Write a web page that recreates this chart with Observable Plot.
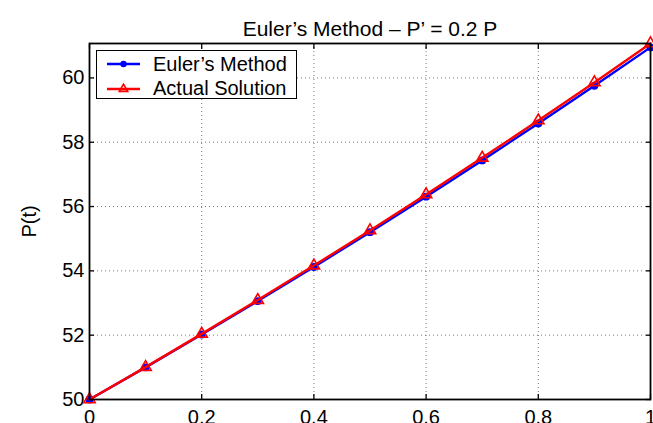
<!DOCTYPE html>
<html>
<head>
<meta charset="utf-8">
<script src="https://cdn.jsdelivr.net/npm/d3@7"></script>
<script src="https://cdn.jsdelivr.net/npm/@observablehq/plot@0.6"></script>
<style>
  html, body { margin: 0; padding: 0; background: #fff; }
  #wrap { position: relative; width: 653px; height: 423px; overflow: hidden; font-family: "Liberation Sans", Arial, sans-serif; }
  #legend { position: absolute; left: 96px; top: 50px; width: 199px; height: 47px; border: 1px solid #000; background: #fff; font-size: 20px; }
  #legend .row { position: absolute; left: 8px; height: 24px; display: flex; align-items: center; line-height: 24px; }
  #legend .row svg { display: block; }
  #legend .row span { margin-left: 12px; }
</style>
</head>
<body>
<div id="wrap"></div>
<script>
const t = [0, 0.1, 0.2, 0.3, 0.4, 0.5, 0.6, 0.7, 0.8, 0.9, 1.0];
const eulerP = [50, 51, 52.02, 53.0604, 54.1216, 55.2040, 56.3081, 57.4343, 58.5830, 59.7546, 60.9497];
const actualP = [50, 51.0067, 52.0405, 53.0918, 54.1644, 55.2585, 56.3749, 57.5137, 58.6755, 59.8609, 61.0701];
const xTicks = [0, 0.2, 0.4, 0.6, 0.8, 1];
const yTicks = [50, 52, 54, 56, 58, 60];
const xTickLabels = ["0", "0.2", "0.4", "0.6", "0.8", "1"];
const titleText = "Euler\u2019s Method \u2013 P\u2019 = 0.2 P";
const seriesNames = ["Euler\u2019s Method", "Actual Solution"];

const euler = t.map((x, i) => ({t: x, P: eulerP[i]}));
const actual = t.map((x, i) => ({t: x, P: actualP[i]}));

const font = "Liberation Sans, Arial, sans-serif";
const noText = () => "";

const chart = Plot.plot({
  width: 653,
  height: 423,
  marginLeft: 89,
  marginRight: 3,
  marginTop: 43,
  marginBottom: 24,
  style: {fontFamily: font, fontSize: "20px", color: "#000", background: "#fff", overflow: "visible"},
  x: {domain: [0, 1]},
  y: {domain: [50, 61.0701]},
  marks: [
    Plot.gridX(xTicks.slice(1, -1), {stroke: "#555", strokeOpacity: 1, strokeWidth: 0.8, strokeDasharray: "1,3"}),
    Plot.gridY(yTicks.slice(1), {stroke: "#555", strokeOpacity: 1, strokeWidth: 0.8, strokeDasharray: "1,3"}),
    Plot.axisX(xTicks, {anchor: "bottom", tickSize: 0, tickPadding: 10, tickFormat: (d) => xTickLabels[xTicks.indexOf(d)], fontSize: 20, label: null}),
    Plot.axisX(xTicks, {anchor: "bottom", tickSize: -5, tickFormat: noText, strokeWidth: 1.3, label: null}),
    Plot.axisX(xTicks, {anchor: "top", tickSize: -5, tickFormat: noText, strokeWidth: 1.3, label: null}),
    Plot.axisY(yTicks, {anchor: "left", tickSize: 0, tickPadding: 5, fontSize: 20, label: "P(t)", labelAnchor: "center", labelArrow: "none", labelOffset: 68}),
    Plot.axisY(yTicks, {anchor: "left", tickSize: -5, tickFormat: noText, strokeWidth: 1.3, label: null}),
    Plot.axisY(yTicks, {anchor: "right", tickSize: -5, tickFormat: noText, strokeWidth: 1.3, label: null}),
    Plot.line(euler, {x: "t", y: "P", stroke: "#0000ff", strokeWidth: 2.4}),
    Plot.dot(euler, {x: "t", y: "P", fill: "#0000ff", stroke: "#0000ff", r: 3.2}),
    Plot.line(actual, {x: "t", y: "P", stroke: "#ff0000", strokeWidth: 2.4}),
    Plot.dot(actual, {x: "t", y: "P", symbol: "triangle", stroke: "#ff0000", fill: "none", strokeWidth: 1.6, r: 4.2}),
    Plot.frame({stroke: "#000", strokeWidth: 1.8}),
    Plot.text([titleText], {frameAnchor: "top", dy: -22.5, fontSize: 21, fill: "#000"})
  ]
});

const wrap = document.getElementById("wrap");
wrap.appendChild(chart);

const legend = document.createElement("div");
legend.id = "legend";
const sw = [
  `<svg width="36" height="12"><line x1="2" y1="6" x2="35" y2="6" stroke="#0000ff" stroke-width="2.4"/><circle cx="18.5" cy="6" r="3.2" fill="#0000ff"/></svg>`,
  `<svg width="36" height="12"><line x1="2" y1="7" x2="35" y2="7" stroke="#ff0000" stroke-width="2.4"/><path d="M18.5,2.2 L22.7,9.4 L14.3,9.4 Z" fill="none" stroke="#ff0000" stroke-width="1.6"/></svg>`
];
seriesNames.forEach((name, i) => {
  const row = document.createElement("div");
  row.className = "row";
  row.style.top = (1 + i * 24) + "px";
  row.innerHTML = sw[i] + `<span>${name}</span>`;
  legend.appendChild(row);
});
wrap.appendChild(legend);
</script>
</body>
</html>
